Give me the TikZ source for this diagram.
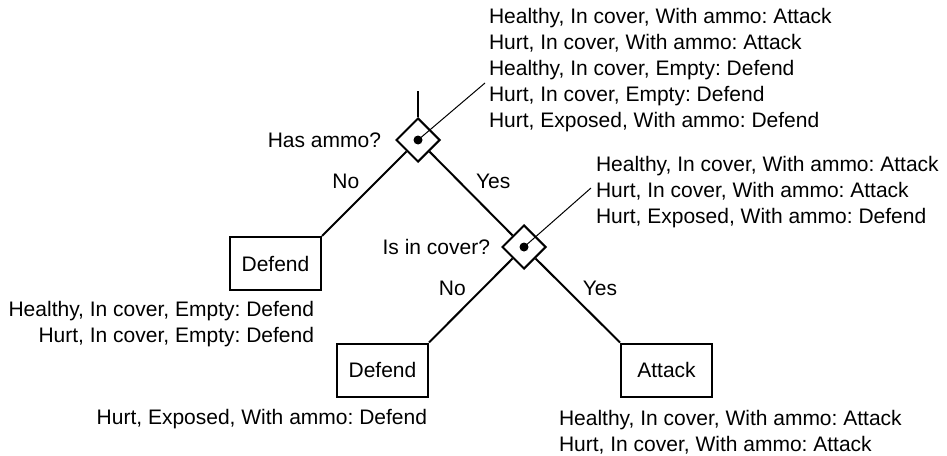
\documentclass[tikz,border=0pt]{standalone}
\usepackage{fontspec}
\setmainfont{Liberation Sans}
\usetikzlibrary{shapes.geometric,positioning}

\begin{document}
\begin{tikzpicture}[
  x=0.5pt, y=-0.5pt,
  font=\fontsize{10.5pt}{13pt}\selectfont\frenchspacing,
  line width=1pt,
  test/.style={draw, diamond, minimum width=22pt, minimum height=22pt, inner sep=0pt},
  act/.style={draw, minimum width=45.5pt, minimum height=26.5pt, inner sep=0pt},
  dot/.style={circle, fill=black, minimum size=4.5pt, inner sep=0pt},
  cases/.style={align=left, inner sep=0pt},
  ans/.style={inner sep=2pt},
  pointer/.style={line width=0.5pt}
]
\useasboundingbox (0,0) rectangle (947,455);

% decisions
\node[test] (ammo) at (418,140) {};
\node[test] (cover) at (524,247) {};
\node[dot] (dotAmmo) at (ammo) {};
\node[dot] (dotCover) at (cover) {};
\node[inner sep=0pt, left=6.5pt of ammo] (askAmmo) {Has ammo?};
\node[inner sep=0pt, left=5pt of cover] (askCover) {Is in cover?};

% actions
\node[act] (defendA) at (275.5,263.5) {Defend};
\node[act] (defendC) at (382.5,370) {Defend};
\node[act] (attack) at (666.5,370) {Attack};

% branches
\coordinate (root) at (418,91);
\draw (root) -- (ammo);
\draw (ammo) -- node[ans, above left] {No} (defendA.north east);
\draw (ammo) -- node[ans, above right] {Yes} (cover);
\draw (cover) -- node[ans, above left] {No} (defendC.north east);
\draw (cover) -- node[ans, above right] {Yes} (attack.north west);

% examples reaching each node (base = last line)
\node[cases, anchor=base west] (casesAmmo) at (488,127) {Healthy, In cover, With ammo: Attack\\
  Hurt, In cover, With ammo: Attack\\
  Healthy, In cover, Empty: Defend\\
  Hurt, In cover, Empty: Defend\\
  Hurt, Exposed, With ammo: Defend};
\node[cases, anchor=base west] (casesCover) at (595,223) {Healthy, In cover, With ammo: Attack\\
  Hurt, In cover, With ammo: Attack\\
  Hurt, Exposed, With ammo: Defend};
\node[cases, align=right, anchor=base east] (casesDefendA) at (315,342) {Healthy, In cover, Empty: Defend\\
  Hurt, In cover, Empty: Defend};
\node[cases, align=right, anchor=base east] (casesDefendC) at (428,424) {Hurt, Exposed, With ammo: Defend};
\node[cases, anchor=base west] (casesAttack) at (558,451) {Healthy, In cover, With ammo: Attack\\
  Hurt, In cover, With ammo: Attack};

\coordinate (tipAmmo) at (485,83);
\coordinate (tipCover) at (591,188);
\draw[pointer] (dotAmmo.center) -- (tipAmmo);
\draw[pointer] (dotCover.center) -- (tipCover);
\end{tikzpicture}
\end{document}
